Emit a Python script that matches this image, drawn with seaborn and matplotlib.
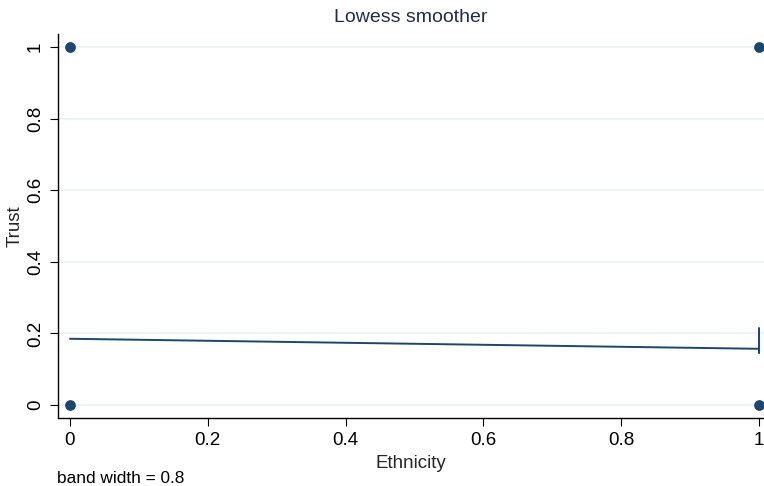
import pandas as pd
import seaborn as sns
import matplotlib.pyplot as plt

# データ (観測点と lowess 平滑線)
ethnicity = [0, 0, 1, 1]
trust = [0, 1, 0, 1]
smooth_x = [0, 1, 1, 1]
smooth_y = [0.185, 0.157, 0.146, 0.215]

pts = pd.DataFrame({"Ethnicity": ethnicity, "Trust": trust})
sm = pd.DataFrame({"x": smooth_x, "y": smooth_y})

sns.set_style("white")
plt.rcParams['font.family'] = ['Liberation Sans', 'DejaVu Sans']

navy = "#1a476f"
fig = plt.figure(figsize=(7.64, 4.86), dpi=100)
ax = fig.add_axes([58 / 764, 1 - 418 / 486, 713 / 764, 384 / 486])

sns.scatterplot(data=pts, x="Ethnicity", y="Trust", color=navy, s=60,
                edgecolor=navy, linewidth=0, ax=ax, zorder=3)
sns.lineplot(data=sm, x="x", y="y", sort=False, estimator=None,
             color=navy, linewidth=1.4, ax=ax, zorder=2)

ax.set_xlim(-0.0174, 1.0174)
ax.set_ylim(-0.0363, 1.0363)
ticks = [0, 0.2, 0.4, 0.6, 0.8, 1]
labels = ["0", "0.2", "0.4", "0.6", "0.8", "1"]
ax.set_xticks(ticks)
ax.set_xticklabels(labels)
ax.set_yticks(ticks)
ax.set_yticklabels(labels, rotation=90, va="center")
ax.grid(axis="y", color="#eaf2f3", linewidth=1.2)
ax.grid(axis="x", visible=False)
ax.set_axisbelow(True)

for s in ["top", "right"]:
    ax.spines[s].set_visible(False)
for s in ["left", "bottom"]:
    ax.spines[s].set_color("black")
    ax.spines[s].set_linewidth(1.0)
ax.tick_params(axis="both", direction="out", length=6, width=0.8,
               labelsize=13.5, color="black", labelcolor="black", pad=4,
               bottom=True, left=True)

ax.set_xlabel("Ethnicity", fontsize=13.5, va="center")
ax.set_ylabel("Trust", fontsize=13.5, va="center")
ax.xaxis.set_label_coords((411 - 58) / 713, (418 - 463) / 384)
ax.yaxis.set_label_coords((15 - 58) / 713, 0.5)
fig.text(411 / 764, 1 - 18 / 486, "Lowess smoother",
         ha="center", va="center", fontsize=14, color="#1e2c53")
fig.text(57 / 764, 1 - 478 / 486, "band width = 0.8", ha="left",
         va="center", fontsize=12.4, color="black")

fig.savefig("out.png", dpi=100)
